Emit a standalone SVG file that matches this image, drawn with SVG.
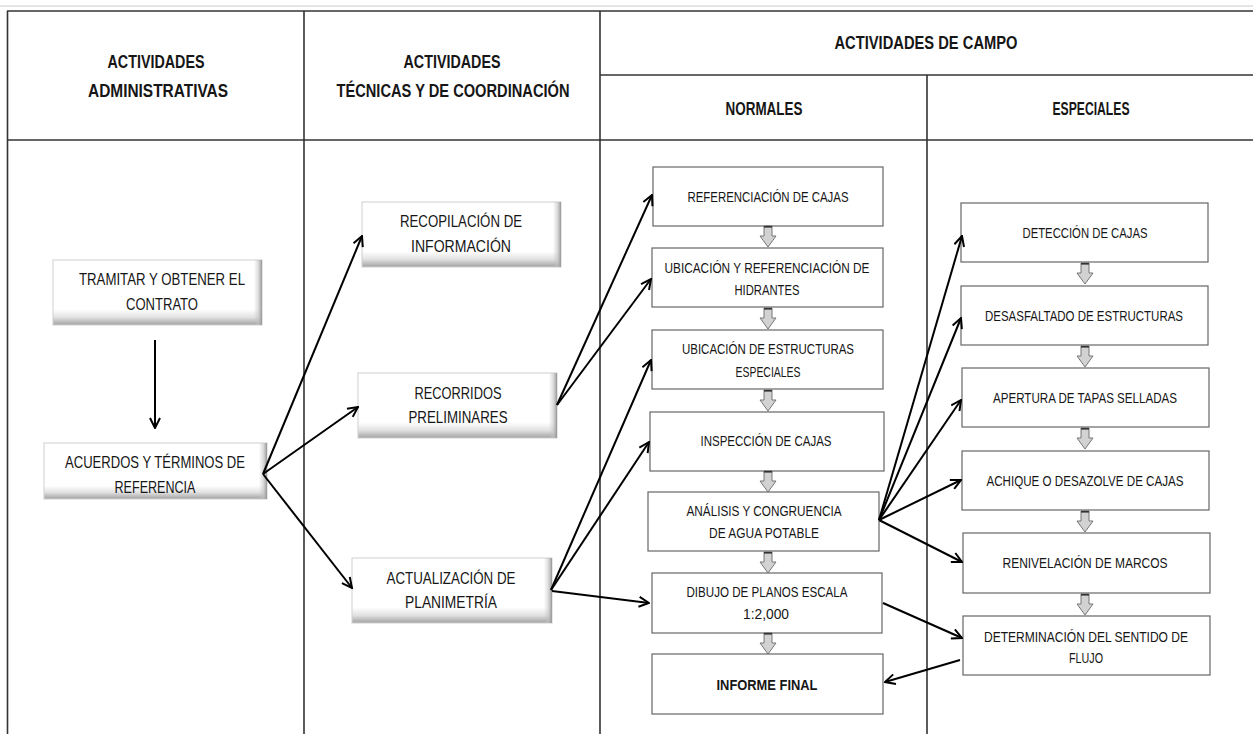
<svg xmlns="http://www.w3.org/2000/svg" width="1253" height="734" viewBox="0 0 1253 734">
  <defs>
    <style>
      text { font-family: "Liberation Sans", Arial, sans-serif; fill: #161616; text-anchor: middle; }
      .hdr { font-size: 17.5px; font-weight: bold; }
      .big { font-size: 17px; }
      .sm { font-size: 14px; }
      .smb { font-size: 15px; font-weight: bold; }
      .grid { stroke: #333; stroke-width: 1.6; fill: none; }
      .plain { fill: #fff; stroke: #666; stroke-width: 1.2; }
      .bevel { fill: url(#bevV); stroke: #cfcfcf; stroke-width: 1; }
      .bevR { fill: url(#bevH); }
      .link { stroke: #000; stroke-width: 2; fill: none; marker-end: url(#head); }
      .flow { fill: #d2d2d2; stroke: #6a6a6a; stroke-width: 0.9; }
    </style>
    <linearGradient id="bevV" x1="0" y1="0" x2="0" y2="1">
      <stop offset="0" stop-color="#fff"/>
      <stop offset="0.76" stop-color="#fff"/>
      <stop offset="0.88" stop-color="#e2e2e2"/>
      <stop offset="1" stop-color="#a2a2a2"/>
    </linearGradient>
    <linearGradient id="bevH" x1="0" y1="0" x2="1" y2="0">
      <stop offset="0" stop-color="#bbb" stop-opacity="0"/>
      <stop offset="0.5" stop-color="#c4c4c4" stop-opacity="0.55"/>
      <stop offset="1" stop-color="#969696" stop-opacity="1"/>
    </linearGradient>
    <marker id="head" viewBox="0 0 12 12" refX="11" refY="6" markerWidth="12" markerHeight="12" markerUnits="userSpaceOnUse" orient="auto">
      <path d="M1,1 L11,6 L1,11" fill="none" stroke="#000" stroke-width="2"/>
    </marker>
    <!-- small grey block arrow pointing down, origin at top centre, 22px tall -->
    <g id="step">
      <path class="flow" d="M-4,0 L4,0 L4,10 L8,10 L0,21 L-8,10 L-4,10 Z"/>
      <line x1="-4" y1="0.8" x2="4" y2="0.8" stroke="#333" stroke-width="1.6"/>
    </g>
  </defs>

  <rect width="1253" height="734" fill="#fff"/>

  <!-- table frame -->
  <g id="table">
    <line x1="0" y1="6" x2="1253" y2="6" stroke="#ddd" stroke-width="1.5"/>
    <line class="grid" x1="7" y1="11" x2="1253" y2="11"/>
    <line class="grid" x1="600" y1="75" x2="1253" y2="75"/>
    <line class="grid" x1="7" y1="140" x2="1253" y2="140"/>
    <line class="grid" x1="7.5" y1="11" x2="7.5" y2="734"/>
    <line class="grid" x1="304" y1="11" x2="304" y2="734"/>
    <line class="grid" x1="600" y1="11" x2="600" y2="734"/>
    <line class="grid" x1="927" y1="75" x2="927" y2="734"/>
  </g>

  <g id="headers">
    <text class="hdr" x="156" y="68" textLength="97" lengthAdjust="spacingAndGlyphs">ACTIVIDADES</text>
    <text class="hdr" x="158" y="97" textLength="140" lengthAdjust="spacingAndGlyphs">ADMINISTRATIVAS</text>
    <text class="hdr" x="452" y="68" textLength="97" lengthAdjust="spacingAndGlyphs">ACTIVIDADES</text>
    <text class="hdr" x="453" y="97" textLength="233" lengthAdjust="spacingAndGlyphs">TÉCNICAS Y DE COORDINACIÓN</text>
    <text class="hdr" x="926" y="49" textLength="183" lengthAdjust="spacingAndGlyphs">ACTIVIDADES DE CAMPO</text>
    <text class="hdr" x="764" y="115" textLength="77" lengthAdjust="spacingAndGlyphs">NORMALES</text>
    <text class="hdr" x="1091" y="115" textLength="77" lengthAdjust="spacingAndGlyphs">ESPECIALES</text>
  </g>

  <!-- administrative column -->
  <g id="tramitar">
    <rect class="bevel" x="53" y="260" width="209" height="65"/>
    <rect class="bevR" x="254" y="260" width="8" height="65"/>
    <text class="big" x="162" y="285" textLength="166" lengthAdjust="spacingAndGlyphs">TRAMITAR Y OBTENER EL</text>
    <text class="big" x="162" y="310" textLength="72" lengthAdjust="spacingAndGlyphs">CONTRATO</text>
  </g>
  <g id="acuerdos">
    <rect class="bevel" x="44" y="443" width="223" height="56"/>
    <rect class="bevR" x="259" y="443" width="8" height="56"/>
    <text class="big" x="155" y="468" textLength="180" lengthAdjust="spacingAndGlyphs">ACUERDOS Y TÉRMINOS DE</text>
    <text class="big" x="155" y="493" textLength="81" lengthAdjust="spacingAndGlyphs">REFERENCIA</text>
  </g>

  <!-- technical column -->
  <g id="recopilacion">
    <rect class="bevel" x="362" y="202" width="199" height="65"/>
    <rect class="bevR" x="553" y="202" width="8" height="65"/>
    <text class="big" x="461" y="227" textLength="122" lengthAdjust="spacingAndGlyphs">RECOPILACIÓN DE</text>
    <text class="big" x="461" y="252" textLength="100" lengthAdjust="spacingAndGlyphs">INFORMACIÓN</text>
  </g>
  <g id="recorridos">
    <rect class="bevel" x="358" y="373" width="199" height="65"/>
    <rect class="bevR" x="549" y="373" width="8" height="65"/>
    <text class="big" x="458" y="399" textLength="87" lengthAdjust="spacingAndGlyphs">RECORRIDOS</text>
    <text class="big" x="458" y="423" textLength="99" lengthAdjust="spacingAndGlyphs">PRELIMINARES</text>
  </g>
  <g id="actualizacion">
    <rect class="bevel" x="352" y="558" width="200" height="65"/>
    <rect class="bevR" x="544" y="558" width="8" height="65"/>
    <text class="big" x="451" y="584" textLength="129" lengthAdjust="spacingAndGlyphs">ACTUALIZACIÓN DE</text>
    <text class="big" x="451" y="608" textLength="92" lengthAdjust="spacingAndGlyphs">PLANIMETRÍA</text>
  </g>

  <!-- normal field activities -->
  <g id="referenciacion">
    <rect class="plain" x="653" y="167" width="230" height="59"/>
    <text class="sm" x="768" y="202" textLength="161" lengthAdjust="spacingAndGlyphs">REFERENCIACIÓN  DE CAJAS</text>
  </g>
  <g id="hidrantes">
    <rect class="plain" x="652" y="248" width="231" height="59"/>
    <text class="sm" x="767" y="273" textLength="205" lengthAdjust="spacingAndGlyphs">UBICACIÓN Y REFERENCIACIÓN  DE</text>
    <text class="sm" x="767" y="295" textLength="65" lengthAdjust="spacingAndGlyphs">HIDRANTES</text>
  </g>
  <g id="estructuras">
    <rect class="plain" x="652" y="330" width="231" height="59"/>
    <text class="sm" x="768" y="354" textLength="172" lengthAdjust="spacingAndGlyphs">UBICACIÓN DE ESTRUCTURAS</text>
    <text class="sm" x="768" y="377" textLength="65" lengthAdjust="spacingAndGlyphs">ESPECIALES</text>
  </g>
  <g id="inspeccion">
    <rect class="plain" x="650" y="412" width="234" height="59"/>
    <text class="sm" x="766" y="446" textLength="131" lengthAdjust="spacingAndGlyphs">INSPECCIÓN DE CAJAS</text>
  </g>
  <g id="analisis">
    <rect class="plain" x="648" y="492" width="231" height="59"/>
    <text class="sm" x="764" y="516" textLength="155" lengthAdjust="spacingAndGlyphs">ANÁLISIS Y CONGRUENCIA</text>
    <text class="sm" x="764" y="538" textLength="110" lengthAdjust="spacingAndGlyphs">DE AGUA POTABLE</text>
  </g>
  <g id="dibujo">
    <rect class="plain" x="652" y="573" width="230" height="60"/>
    <text class="sm" x="767" y="597" textLength="161" lengthAdjust="spacingAndGlyphs">DIBUJO DE PLANOS  ESCALA</text>
    <text class="sm" x="766" y="619" textLength="46" lengthAdjust="spacingAndGlyphs">1:2,000</text>
  </g>
  <g id="informe">
    <rect class="plain" x="652" y="654" width="231" height="60"/>
    <text class="smb" x="767" y="690" textLength="101" lengthAdjust="spacingAndGlyphs">INFORME FINAL</text>
  </g>

  <!-- special field activities -->
  <g id="deteccion">
    <rect class="plain" x="961" y="203" width="247" height="59"/>
    <text class="sm" x="1085" y="238" textLength="125" lengthAdjust="spacingAndGlyphs">DETECCIÓN  DE CAJAS</text>
  </g>
  <g id="desasfaltado">
    <rect class="plain" x="961" y="286" width="247" height="59"/>
    <text class="sm" x="1084" y="321" textLength="198" lengthAdjust="spacingAndGlyphs">DESASFALTADO  DE ESTRUCTURAS</text>
  </g>
  <g id="apertura">
    <rect class="plain" x="962" y="368" width="247" height="59"/>
    <text class="sm" x="1085" y="403" textLength="184" lengthAdjust="spacingAndGlyphs">APERTURA  DE TAPAS  SELLADAS</text>
  </g>
  <g id="achique">
    <rect class="plain" x="962" y="451" width="247" height="59"/>
    <text class="sm" x="1085" y="486" textLength="197" lengthAdjust="spacingAndGlyphs">ACHIQUE  O DESAZOLVE  DE CAJAS</text>
  </g>
  <g id="renivelacion">
    <rect class="plain" x="963" y="533" width="247" height="60"/>
    <text class="sm" x="1085" y="568" textLength="165" lengthAdjust="spacingAndGlyphs">RENIVELACIÓN  DE MARCOS</text>
  </g>
  <g id="determinacion">
    <rect class="plain" x="963" y="616" width="247" height="59"/>
    <text class="sm" x="1086" y="642" textLength="204" lengthAdjust="spacingAndGlyphs">DETERMINACIÓN  DEL SENTIDO DE</text>
    <text class="sm" x="1086" y="663" textLength="34" lengthAdjust="spacingAndGlyphs">FLUJO</text>
  </g>

  <!-- sequence arrows inside the field columns -->
  <g id="steps">
    <use href="#step" x="768" y="226"/>
    <use href="#step" x="768" y="308"/>
    <use href="#step" x="768" y="390"/>
    <use href="#step" x="768" y="471"/>
    <use href="#step" x="768" y="552"/>
    <use href="#step" x="768" y="633"/>
    <use href="#step" x="1085" y="263"/>
    <use href="#step" x="1085" y="346"/>
    <use href="#step" x="1085" y="428"/>
    <use href="#step" x="1085" y="511"/>
    <use href="#step" x="1085" y="594"/>
  </g>

  <g id="connectors">
    <line class="link" x1="155" y1="340" x2="155" y2="428"/>
    <line class="link" x1="263" y1="474" x2="362" y2="236"/>
    <line class="link" x1="263" y1="474" x2="358" y2="407"/>
    <line class="link" x1="263" y1="474" x2="352" y2="588"/>
    <line class="link" x1="557" y1="405" x2="652" y2="195"/>
    <line class="link" x1="557" y1="405" x2="651" y2="279"/>
    <line class="link" x1="551" y1="590" x2="651" y2="360"/>
    <line class="link" x1="551" y1="590" x2="649" y2="442"/>
    <line class="link" x1="552" y1="591" x2="649" y2="603"/>
    <line class="link" x1="879" y1="520" x2="962" y2="236"/>
    <line class="link" x1="879" y1="520" x2="961" y2="318"/>
    <line class="link" x1="879" y1="520" x2="961" y2="400"/>
    <line class="link" x1="879" y1="520" x2="961" y2="480"/>
    <line class="link" x1="879" y1="520" x2="962" y2="562"/>
    <line class="link" x1="883" y1="603" x2="962" y2="638"/>
    <line class="link" x1="960" y1="660" x2="885" y2="682"/>
  </g>
</svg>
